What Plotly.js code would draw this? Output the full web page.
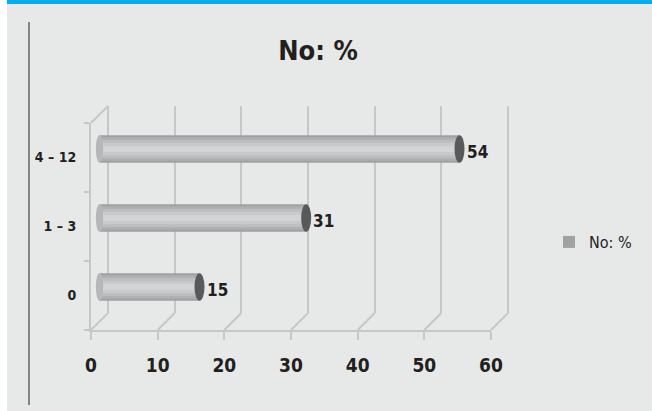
<!DOCTYPE html>
<html>
<head>
<meta charset="utf-8">
<script src="https://cdn.plot.ly/plotly-3.0.1.min.js"></script>
<style>html,body{margin:0;padding:0;background:#e7e8e8;}#chart{width:652px;height:411px;}</style>
</head>
<body>
<div id="chart"></div>
<script>
// ---- data ----
const categories = ['0', '1 – 3', '4 – 12'];
const values = [15, 31, 54];
const seriesName = 'No: %';
const xTickVals = [0, 10, 20, 30, 40, 50, 60];
const chartTitle = 'No: %';

// ---- geometry (pixels) ----
const W = 652, H = 411;
const FX0 = 91, FX1 = 491, FYT = 123, FYB = 330; // front plane
const D = 17;            // depth offset
const XMAX = 60;
const k = (FX1 - FX0) / XMAX;
const px = x => x / W;
const py = y => 1 - y / H;
const FONT = "'Liberation Sans Narrow', 'Arial Narrow', 'DejaVu Sans Condensed', 'Liberation Sans', sans-serif";
const TXT = '#231f20';
const GRID = '#c6c7c8';

// cylinder shading layers (outer -> inner)
const shade = [
  {w: 0.40, c: '#a0a1a3'},
  {w: 0.34, c: '#aeafb1'},
  {w: 0.27, c: '#bcbdbf'},
  {w: 0.18, c: '#c8c9cb'},
  {w: 0.09, c: '#d3d4d5'}
];

const traces = shade.map((s, i) => ({
  type: 'bar', orientation: 'h',
  x: values, y: categories,
  xaxis: 'x2', yaxis: 'y2',
  width: values.map(() => s.w),
  marker: {color: s.c, line: {width: 0}},
  name: seriesName,
  showlegend: i === 0,
  hoverinfo: 'skip'
}));
// invisible trace registering categories on the front axes
traces.push({
  type: 'scatter', mode: 'markers', x: values, y: categories,
  xaxis: 'x3', yaxis: 'y3', marker: {opacity: 0}, showlegend: false, hoverinfo: 'skip'
});
// invisible trace for back grid axes
traces.push({
  type: 'scatter', mode: 'markers', x: values, y: categories,
  xaxis: 'x', yaxis: 'y', marker: {opacity: 0}, showlegend: false, hoverinfo: 'skip'
});

const midX0 = FX0 + D / 2, midYT = FYT - D / 2, midYB = FYB - D / 2;
const XMIN_MID = -3;
const PAD = 0.5; // back-plane range padding so edge gridlines are drawn

const shapes = [];
// white strip on left, blue band on top
shapes.push({type: 'rect', xref: 'paper', yref: 'paper', x0: 0, x1: px(7), y0: 0, y1: 1, fillcolor: '#ffffff', line: {width: 0}, layer: 'below'});
shapes.push({type: 'rect', xref: 'paper', yref: 'paper', x0: px(7), x1: 1, y0: py(4), y1: 1, fillcolor: '#00aeef', line: {width: 0}, layer: 'below'});
// left vertical rule
shapes.push({type: 'line', xref: 'paper', yref: 'paper', x0: px(29), x1: px(29), y0: py(22), y1: py(405), line: {color: TXT, width: 1}});
// depth diagonals along floor and top-left
xTickVals.forEach(v => {
  const x = FX0 + v * k;
  shapes.push({type: 'line', xref: 'paper', yref: 'paper', x0: px(x), y0: py(FYB), x1: px(x + D), y1: py(FYB - D), line: {color: GRID, width: 2}, layer: 'below'});
});
shapes.push({type: 'line', xref: 'paper', yref: 'paper', x0: px(FX0), y0: py(FYT), x1: px(FX0 + D), y1: py(FYT - D), line: {color: GRID, width: 2}, layer: 'below'});
// cylinder caps
values.forEach((v, i) => {
  shapes.push({type: 'circle', xref: 'x2', yref: 'y2', x0: -0.55, x1: 0.55, y0: i - 0.2, y1: i + 0.2, fillcolor: '#b6b7b9', line: {width: 0}, layer: 'above'});
  shapes.push({type: 'circle', xref: 'x2', yref: 'y2', x0: v - 0.75, x1: v + 0.75, y0: i - 0.2, y1: i + 0.2, fillcolor: '#58595b', line: {width: 0}, layer: 'above'});
});

const annotations = values.map((v, i) => ({
  xref: 'x2', yref: 'y2', x: v, y: categories[i], text: String(v),
  xanchor: 'left', yanchor: 'middle', xshift: 5, yshift: -3, showarrow: false,
  font: {family: FONT, size: 17, color: TXT, weight: 'bold'}
}));

const catAxisBase = {type: 'category', categoryorder: 'array', categoryarray: categories, range: [-0.5, 2.5], fixedrange: true};

const layout = {
  width: W, height: H,
  margin: {l: 0, r: 0, t: 0, b: 0},
  paper_bgcolor: '#e7e8e8',
  plot_bgcolor: 'rgba(0,0,0,0)',
  font: {family: FONT, color: TXT},
  title: {text: chartTitle, x: 318 / W, xanchor: 'center', xref: 'paper', y: py(51), yanchor: 'middle', yref: 'paper',
          font: {family: FONT, size: 27, color: TXT, weight: 'bold'}},
  barmode: 'overlay',
  showlegend: true,
  legend: {x: px(549), xanchor: 'left', y: py(242), yanchor: 'middle', bgcolor: 'rgba(0,0,0,0)',
           font: {family: FONT, size: 16, color: TXT}, itemwidth: 30},
  // back plane (grid)
  xaxis: {domain: [px(FX0 + D - PAD * k), px(FX1 + D + PAD * k)], range: [-PAD, XMAX + PAD], dtick: 10, tick0: 0, showgrid: true, gridcolor: GRID, gridwidth: 2,
          zeroline: false, showline: false, showticklabels: false, ticks: '', anchor: 'y', fixedrange: true},
  yaxis: Object.assign({}, catAxisBase, {domain: [py(FYB - D), py(FYT - D)], showgrid: false, zeroline: false, showline: false,
          showticklabels: false, ticks: '', anchor: 'x'}),
  // middle (bars)
  xaxis2: {domain: [px(midX0 + XMIN_MID * k), px(midX0 + XMAX * k)], range: [XMIN_MID, XMAX], visible: false, anchor: 'y2', fixedrange: true},
  yaxis2: Object.assign({}, catAxisBase, {domain: [py(midYB), py(midYT)], visible: false, anchor: 'x2'}),
  // front (axes & labels)
  xaxis3: {domain: [px(FX0), px(FX1)], range: [0, XMAX], tickmode: 'array', tickvals: xTickVals, ticktext: xTickVals.map(String),
           showgrid: false, zeroline: false, showline: true, linecolor: GRID, linewidth: 2,
           ticks: 'outside', ticklen: 8, tickwidth: 2, tickcolor: GRID, ticklabelstandoff: 9,
           tickfont: {family: FONT, size: 19, color: TXT, weight: 'bold'}, anchor: 'y3', fixedrange: true},
  yaxis3: Object.assign({}, catAxisBase, {domain: [py(FYB), py(FYT)], showgrid: false, zeroline: false, showline: true,
           linecolor: GRID, linewidth: 2, ticks: 'outside', tickson: 'boundaries', ticklen: 5, tickwidth: 2, tickcolor: GRID,
           ticklabelstandoff: 10, tickfont: {family: FONT, size: 14, color: TXT, weight: 'bold'}, anchor: 'x3'}),
  shapes: shapes,
  annotations: annotations
};

Plotly.newPlot('chart', traces, layout, {displayModeBar: false, staticPlot: true});
</script>
</body>
</html>
